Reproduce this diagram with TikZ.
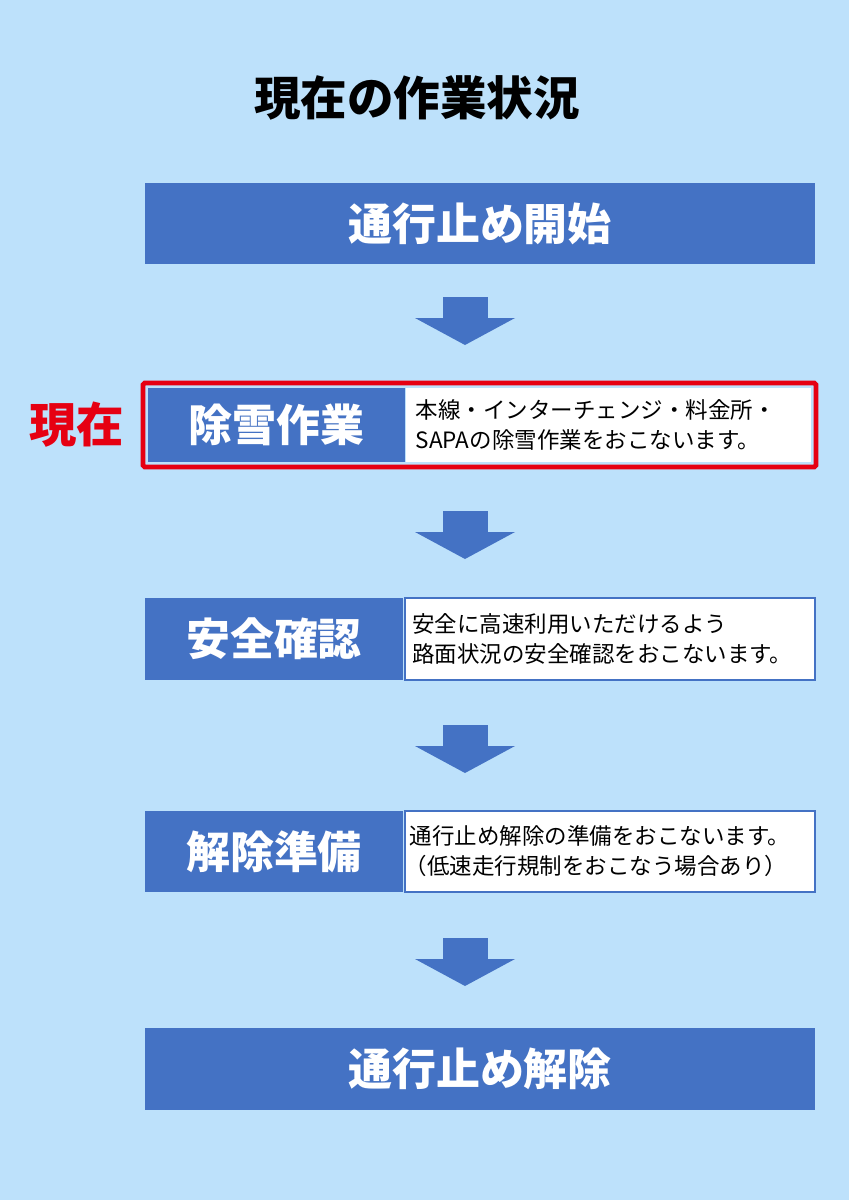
\documentclass[tikz,border=0pt]{standalone}
\usepackage{fontspec}
\setmainfont{Noto Sans CJK JP}
\usetikzlibrary{positioning,calc}
\definecolor{bgblue}{HTML}{BDE1FB}
\definecolor{boxblue}{HTML}{4472C4}
\definecolor{nowred}{HTML}{E60012}
\tikzset{
  vaihe/.style={fill=boxblue,text=white,font=\bfseries\fontsize{25}{30}\selectfont,inner sep=0pt},
  note/.style={fill=white,draw=boxblue,line width=1pt,anchor=west,align=left,font=\fontsize{12.8}{17}\selectfont,inner sep=0pt,text width=8.1cm},
}
\newcommand\kuusio[1]{
\fill[boxblue] ($(#1)+(-22.5,0)$) rectangle ($(#1)+(22.5,21)$);
\fill[boxblue] ($(#1)+(-50,21)$) -- ($(#1)+(50,21)$) -- ($(#1)+(0,48)$) -- cycle;
}
\begin{document}
\begin{tikzpicture}[x=0.02cm,y=-0.02cm]
\fill[bgblue] (0,0) rectangle (849,1200);
\useasboundingbox (0,0) rectangle (849,1200);
\node[font=\bfseries\fontsize{26.5}{30}\selectfont] (otsikko) at (417,98) {現在の作業状況};
% vaiheet
\node[vaihe,minimum width=13.4cm,minimum height=1.62cm] (alku) at (480,223.5) {通行止め開始};
\draw[nowred,line width=2.8pt,rounded corners=1pt] (143,383) rectangle (816,467);
\node[vaihe,minimum width=5.14cm,minimum height=1.48cm] (lumi) at (276.5,425) {除雪作業};
\node[note,draw=none,minimum height=1.48cm] (lumiteksti) at (405,425) {\hspace{0.2cm}本線・インターチェンジ・料金所・\\\hspace{0.2cm}SAPAの除雪作業をおこないます。};
\node[font=\bfseries\fontsize{27}{30}\selectfont,text=nowred] (nyt) at (77,425) {現在};
\node[vaihe,minimum width=5.16cm,minimum height=1.64cm] (tarkistus) at (274,639) {安全確認};
\node[note,minimum height=1.64cm,text width=8.2cm] (tarkistusteksti) at (404,639) {\hspace{0.15cm}安全に高速利用いただけるよう\\\hspace{0.15cm}路面状況の安全確認をおこないます。};
\node[vaihe,minimum width=5.16cm,minimum height=1.62cm] (valmistelu) at (274,851.5) {解除準備};
\node[note,minimum height=1.62cm,text width=8.2cm] (valmisteluteksti) at (404,851.5) {\hspace{0.1cm}通行止め解除の準備をおこないます。\\（低速走行規制をおこなう場合あり）};
\node[vaihe,minimum width=13.4cm,minimum height=1.64cm] (loppu) at (480,1069) {通行止め解除};
% nuolet
\coordinate (n1) at (465,297);
\coordinate (n2) at (465,511);
\coordinate (n3) at (465,725);
\coordinate (n4) at (465,938);
\foreach \n in {n1,n2,n3,n4} {\kuusio{\n}}
\end{tikzpicture}
\end{document}
